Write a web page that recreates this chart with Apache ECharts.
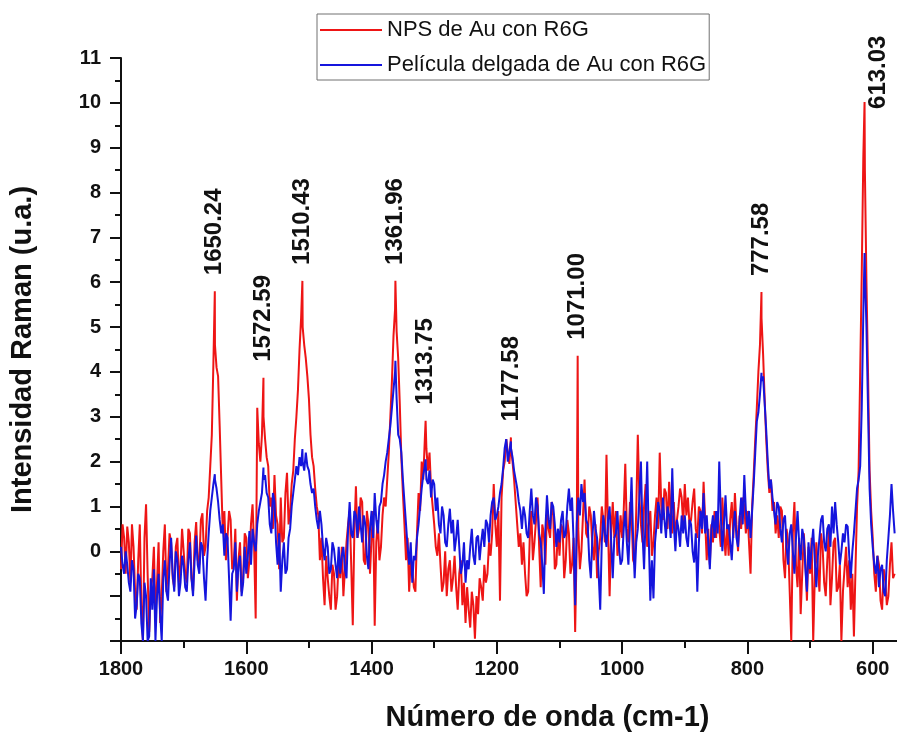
<!DOCTYPE html>
<html>
<head>
<meta charset="utf-8">
<script src="https://cdn.jsdelivr.net/npm/echarts@6/dist/echarts.min.js"></script>
<style>
  html, body { margin: 0; padding: 0; background: #fff; overflow: hidden; width: 897px; height: 737px; }
  /* the wavenumber axis continues past the right edge of the page */
  #chart { width: 1001px; height: 737px; }
</style>
</head>
<body>
<div id="chart"></div>
<script>
// Raman spectra of R6G: gold nanoparticles vs. thin gold film.
// Intensities sampled every 2.5 cm-1 from 1800 down to 565 cm-1.
const wavenumberStart = 1800;
const wavenumberStep = 2.5;

// NPS de Au con R6G (one row per 50 cm-1)
const npsIntensity = [
  -0.4, 0.6, 0.3, -0.5, 0.55, 0.2, -0.7, 0.6, 0.1, -0.9, -1.3, -0.2, 0.6, -1.2, -2.0, 0.3, 1.05, -0.5, -1.8, -0.9,   // 1800
  -0.6, 0.1, -1.5, -0.7, 0.2, -1.6, -1.0, 0.0, 0.6, -0.9, -0.4, 0.4, 0.2, -0.6, -0.8, 0.1, 0.3, -0.7, -0.3, 0.5,     // 1750
  0.0, -0.5, -0.7, 0.5, 0.4, -0.6, -0.9, 0.2, 0.65, -0.2, -0.3, 0.7, 0.85, -0.1, 0.1, 0.9, 1.2, 1.9, 2.6, 4.2,       // 1700
  4.6, 4.1, 3.9, 2.8, 1.6, 0.4, 0.9, -0.2, 0.3, 0.9, 0.7, -0.4, -0.3, 0.5, -1.1, -0.2, 0.2, -0.9, -0.6, 0.4,         // 1650
  0.3, -0.6, -0.2, 0.6, 1.05, 0.1, -1.5, 3.2, 2.4, 2.0, 2.6, 3.0, 2.5, 2.1, 1.9, 1.0, 1.2, 0.5, 1.7, 0.8,            // 1600
  0.6, -0.4, 1.2, 0.2, 0.3, 1.3, 1.75, 0.6, 0.9, 1.5, 1.8, 2.5, 3.0, 3.6, 4.5, 5.2, 5.0, 4.6, 4.3, 3.9,              // 1550
  3.4, 2.6, 2.1, 1.9, 1.4, 1.0, 0.8, -0.2, 0.3, -0.6, -1.2, -0.1, -0.6, -1.0, -1.3, -0.3, -0.5, -1.3, -1.0, -0.2,    // 1500
  -0.6, 0.1, -1.0, -0.4, 0.2, 0.6, 0.9, -0.3, -1.65, 0.4, 1.45, 0.3, 0.5, 1.2, 1.1, -0.2, -0.3, 0.9, 0.6, -0.5,      // 1450
  0.3, 0.9, -1.66, 0.2, 0.7, -0.2, 0.1, 0.8, 1.2, 1.0, 1.6, 2.2, 3.0, 3.8, 4.8, 5.4, 4.9, 4.3, 3.3, 2.1,             // 1400
  1.3, 0.6, -0.2, 0.3, -0.9, -0.2, -0.4, -0.8, -0.9, 0.4, 1.3, 0.9, 2.0, 1.6, 2.5, 2.3, 1.8, 2.2, 1.4, 1.0,          // 1350
  0.6, 0.1, -0.1, 0.4, -0.3, -0.9, -0.7, 0.0, -1.0, -0.4, -0.2, -0.9, -0.6, -0.1, -0.8, -1.3, -0.5, -0.2, -1.2, -0.7, // 1300
  -1.6, -0.8, -1.3, -1.7, -0.9, -1.2, -1.95, -1.0, -1.4, -0.6, -0.8, -1.1, -0.3, -0.7, -0.5, 0.2, -0.1, 0.4, 1.5, 0.6, // 1250
  0.1, 0.9, -1.1, 1.2, 1.8, 2.0, 2.5, 2.2, 1.95, 2.3, 2.0, 1.6, 1.1, 0.6, 0.1, 0.4, -0.3, 0.2, -0.5, -1.0,           // 1200
  -0.9, 0.3, 0.9, -0.2, 0.2, 0.7, 1.2, 0.1, -0.8, 0.6, 0.4, -0.3, 0.9, 0.5, 0.3, 1.1, 0.8, -0.4, -0.3, 0.5,          // 1150
  -0.1, 0.6, 0.5, -0.6, -0.2, 0.7, 0.4, -0.5, -0.3, 0.3, -1.8, 0.2, 0.5, -0.4, 0.0, 0.8, 1.6, 0.4, 0.3, 1.0,         // 1100
  0.8, 0.1, -0.2, 0.6, -0.6, 0.0, 0.3, 1.0, 0.7, 0.2, 2.15, 0.5, -1.0, 0.4, 1.1, 0.3, 0.9, -0.1, 0.2, 0.8,           // 1050
  0.3, 0.9, 1.95, 0.5, 0.2, 1.1, 0.8, -0.2, -0.3, 0.9, 2.6, 1.2, 0.6, 0.2, 1.0, 1.5, 0.1, 0.6, 0.9, -0.1,            // 1000
  0.2, 0.8, 1.2, 0.5, 2.2, 1.0, 0.7, 1.4, 1.3, 0.5, 1.55, 0.9, 0.4, 1.1, 0.3, 0.7, 1.0, 1.4, 1.2, 0.6,               // 950
  1.5, 0.8, 1.2, 0.6, 0.7, 1.1, 1.4, 0.5, 0.3, 1.0, 0.9, 0.4, 1.55, 0.7, -0.2, 0.5, -0.3, 0.6, 0.2, 0.9,             // 900
  0.3, 0.9, 0.5, 0.1, 1.2, 0.4, -0.1, 0.6, -0.1, 0.7, 1.1, 0.3, 1.3, 0.6, 0.0, 0.8, 0.5, 1.2, 1.0, 0.4,              // 850
  0.9, 0.2, -0.5, 1.0, 1.7, 2.5, 3.2, 4.0, 4.6, 5.2, 4.4, 3.4, 2.5, 1.8, 1.3, 1.6, 0.9, 1.1, 0.4, 0.8,               // 800
  0.3, 1.0, 0.9, -0.2, -0.6, 0.5, 0.2, -0.9, -2.0, 0.4, 1.1, -0.3, -0.8, 0.3, -1.4, -0.5, 0.4, -0.2, -1.1, 0.1,      // 750
  -0.5, 0.3, -2.0, -0.6, 0.2, -0.4, -0.9, 0.4, 0.1, -0.7, -1.0, -0.2, 0.5, -1.2, -0.6, 0.2, 0.3, -0.9, -0.8, -0.3,   // 700
  -2.0, -0.9, -0.4, 0.1, -0.8, -0.2, -1.3, -0.5, -1.9, -0.4, 1.0, 1.8, 4.0, 6.2, 8.8, 8.5, 6.0, 4.0, 1.8, 0.9,       // 650
  0.3, -0.5, -0.9, -0.1, -0.3, -1.1, -1.3, -0.4, -0.6, -1.2, -1.0, -0.3, 0.2, -0.6, -0.5                             // 600-565
];

// Película delgada de Au con R6G (one row per 50 cm-1)
const filmIntensity = [
  0.1, -0.3, -0.5, 0.0, -0.3, -0.7, -0.9, -0.2, -0.4, -1.5, -1.2, -0.5, -0.6, -1.6, -2.0, -0.7, -1.0, -2.0, -1.9, -0.6, // 1800
  -1.3, -0.4, -2.0, -1.0, -0.5, -1.4, -2.0, -0.6, -0.2, -0.9, -1.1, -0.3, 0.3, -0.5, -0.9, 0.0, -0.2, -1.0, -0.7, -0.1, // 1750
  -0.3, -0.8, -0.9, -0.2, 0.2, -0.6, -1.0, -0.2, 0.35, -0.3, -0.5, 0.2, 0.1, -0.6, -1.1, -0.2, 0.4, 0.9, 1.2, 1.5,    // 1700
  1.6, 1.4, 1.1, 0.7, 0.4, 0.6, -0.1, 0.4, 0.3, -0.6, -1.55, -0.5, -0.4, 0.2, -0.9, -0.3, -0.1, -1.0, -0.7, 0.1,     // 1650
  -0.5, -0.1, 0.45, -0.3, 0.5, 0.2, 0.0, 0.6, 0.9, 1.1, 1.3, 1.6, 1.7, 1.3, 1.2, 0.6, 0.4, 1.3, 1.1, 0.2,            // 1600
  -0.3, 0.4, -0.9, -0.2, 0.2, -0.5, -0.4, 0.3, 0.5, 1.0, 1.3, 1.6, 1.9, 1.7, 2.1, 1.9, 2.0, 1.8, 2.2, 1.9,           // 1550
  1.8, 1.5, 1.3, 1.4, 1.0, 0.7, 0.5, 0.9, 0.6, 0.1, -0.2, 0.3, 0.1, -0.5, -0.4, 0.2, 0.05, -0.3, -0.6, 0.1,          // 1500
  -0.5, -0.1, 0.1, -0.4, -0.6, 0.5, 1.1, 0.4, 0.3, 0.9, 0.8, 0.3, 1.0, 0.6, 0.2, 0.8, 0.6, -0.1, -0.4, 0.5,          // 1450
  0.9, 0.3, 1.3, 0.7, 0.4, 1.0, 1.1, 1.5, 1.7, 2.0, 2.2, 2.5, 2.8, 3.2, 3.6, 4.0, 3.4, 2.6, 2.5, 2.2,                // 1400
  1.6, 1.1, 0.6, 0.1, -0.3, 0.2, -0.7, -0.1, -0.2, 0.3, 0.6, 1.0, 1.4, 1.7, 1.9, 1.6, 1.5, 1.8, 1.2, 1.6,            // 1350
  1.5, 0.9, 1.2, 0.6, 0.4, 1.0, 0.8, 0.2, 0.1, 0.6, 0.95, 0.4, 0.7, 0.0, 0.3, 0.7, 0.1, -0.5, -0.3, 0.2,             // 1300
  -0.7, -0.2, -0.4, 0.1, 0.5, -0.1, -0.3, 0.3, 0.35, -0.2, 0.2, 0.5, 0.1, 0.7, 0.6, 0.2, 0.8, 1.1, 1.2, 0.7,         // 1250
  0.8, 1.0, 1.3, 1.5, 1.85, 2.3, 2.5, 2.0, 2.0, 2.3, 2.1, 1.8, 1.6, 1.4, 1.1, 0.9, 0.5, 1.0, 0.8, 0.4,               // 1200
  0.3, 0.9, 1.4, 0.8, 0.6, 1.2, 1.0, 0.4, 0.2, -0.3, -0.95, 0.5, 1.25, 0.7, 0.5, 1.1, 1.0, 0.6, 0.1, 0.5,            // 1150
  0.2, 0.7, 0.9, 0.3, 0.4, 1.0, 1.4, 0.9, 1.2, 0.2, -1.2, 0.6, 1.2, 0.8, 1.5, 1.1, 1.3, 0.7, 0.6, -0.2,              // 1100
  -0.6, 0.3, 0.9, 0.5, 0.3, -0.5, -1.3, 0.2, 0.8, 0.4, 0.1, 0.7, 1.0, 0.2, -0.6, 0.3, 0.4, 0.9, 0.1, -0.3,           // 1050
  -0.2, 0.5, 0.9, 0.2, -0.3, 0.6, 1.65, 0.3, -0.6, 0.2, 0.5, 1.2, 2.0, 0.4, -0.4, 0.8, 2.0, 0.3, -1.1, -0.2,         // 1000
  -1.05, 0.2, 0.6, 1.1, 0.9, 0.4, 1.2, 0.7, 0.3, 1.0, 0.8, 0.3, 1.85, 0.6, 0.0, 0.7, 0.5, 0.1, 0.8, 0.4,             // 950
  0.8, 0.3, 0.1, 0.7, 0.6, 0.0, -0.25, 0.4, -0.9, 0.2, 0.9, 0.5, 1.3, 0.4, 0.8, 0.2, -0.4, 0.5, 0.8, 0.3,            // 900
  0.9, 0.4, 2.0, 0.8, 0.0, 0.6, 1.25, 0.5, 0.6, 0.2, -0.2, 0.5, 0.9, 0.3, 0.1, 0.7, 1.2, 0.6, 1.7, 0.9,              // 850
  0.5, 0.9, 0.3, 0.9, 1.5, 2.2, 2.9, 3.1, 3.5, 3.8, 3.9, 3.3, 2.7, 2.0, 1.4, 1.6, 1.2, 0.9, 0.6, 1.1,                // 800
  1.0, 0.5, 0.2, 0.7, 0.8, 0.1, -0.3, 0.4, 0.6, 0.0, -0.5, 0.3, 0.9, 0.2, -0.2, 0.5, 0.3, -0.4, -0.9, 0.2,           // 750
  -0.4, 0.1, 0.5, -0.2, -0.8, -0.1, 0.3, 0.7, 0.8, 0.2, 0.0, 0.5, 0.6, 0.1, 1.0, 0.4, 1.1, 0.6, 0.2, -0.3,           // 700
  0.0, 0.4, 0.2, 0.6, 0.55, -0.1, -0.6, 0.0, 0.4, 0.9, 1.4, 1.6, 1.9, 3.2, 5.3, 6.3, 5.0, 3.2, 1.4, 0.6,             // 650
  0.1, -0.3, -0.5, -0.1, -0.8, -0.4, -0.3, -0.9, -1.0, -0.2, 0.3, 0.8, 1.5, 0.9, 0.4                                 // 600-565
];

// Band maxima (cm-1) and the intensity of each spectrum at those bands
const peakWavenumbers = [1650.24, 1572.59, 1510.43, 1361.96, 1313.75, 1177.58, 1071.00, 777.58, 613.03];
const peakNps  = [5.80, 3.87, 6.03, 6.03, 2.91, 2.54, 4.36, 5.78, 10.02];
const peakFilm = [1.72, 1.87, 2.28, 4.25, 2.05, 2.45, 1.00, 3.98, 6.65];

// Axis ticks
const yTickValues = [0, 1, 2, 3, 4, 5, 6, 7, 8, 9, 10, 11];
const xTickValues = [1800, 1600, 1400, 1200, 1000, 800, 600];

const seriesNames = ['NPS de Au con R6G', 'Película delgada de Au con R6G'];

const wavenumbers = npsIntensity.map((_, i) => wavenumberStart - i * wavenumberStep);

function buildSeries(values, peakValues) {
  const pts = wavenumbers.map((w, i) => [w, values[i]]);
  peakWavenumbers.forEach((w, i) => pts.push([w, peakValues[i]]));
  pts.sort((a, b) => b[0] - a[0]);
  return pts;
}

const FONT = '"Liberation Sans", Arial, Helvetica, sans-serif';
const INK = '#111111';
const RED = '#ee1515';
const BLUE = '#1515dd';

const chart = echarts.init(document.getElementById('chart'), null, { renderer: 'canvas' });

const yMax = Math.max(...yTickValues);

chart.setOption({
  animation: false,
  backgroundColor: '#ffffff',
  grid: { left: 121, top: 58, right: 0, bottom: 95 },
  legend: {
    data: seriesNames,
    orient: 'vertical',
    left: 317,
    top: 14,
    padding: [3, 3, 2, 3],
    itemGap: 9,
    icon: 'rect',
    itemWidth: 62,
    itemHeight: 2,
    borderColor: '#707070',
    borderWidth: 1,
    backgroundColor: '#ffffff',
    textStyle: { fontFamily: FONT, fontSize: 22, color: INK, lineHeight: 26 }
  },
  xAxis: {
    type: 'value',
    inverse: true,
    min: 400,
    max: 1800,
    interval: 200,
    name: 'Número de onda (cm-1)',
    nameLocation: 'middle',
    nameGap: 62,
    nameTextStyle: { fontFamily: FONT, fontWeight: 'bold', fontSize: 29, color: INK, padding: [0, 24, 0, 0] },
    axisLine: { show: true, onZero: false, lineStyle: { color: INK, width: 2 } },
    axisTick: { show: true, inside: false, length: 13, lineStyle: { color: INK, width: 2 } },
    minorTick: { show: true, splitNumber: 2, length: 7, lineStyle: { color: INK, width: 2 } },
    axisLabel: {
      margin: 18, fontFamily: FONT, fontWeight: 'bold', fontSize: 20, color: INK,
      formatter: v => (xTickValues.includes(v) ? String(v) : '')
    },
    splitLine: { show: false }
  },
  yAxis: {
    type: 'value',
    min: -2,
    max: yMax,
    interval: 1,
    name: 'Intensidad Raman (u.a.)',
    nameLocation: 'middle',
    nameGap: 84,
    nameTextStyle: { fontFamily: FONT, fontWeight: 'bold', fontSize: 29, color: INK },
    axisLine: { show: true, onZero: false, lineStyle: { color: INK, width: 2 } },
    axisTick: { show: true, inside: false, length: 11, lineStyle: { color: INK, width: 2 } },
    minorTick: { show: true, splitNumber: 2, length: 6, lineStyle: { color: INK, width: 2 } },
    axisLabel: {
      margin: 20, fontFamily: FONT, fontWeight: 'bold', fontSize: 20, color: INK,
      formatter: v => (yTickValues.includes(v) ? String(v) : '')
    },
    splitLine: { show: false }
  },
  series: [
    {
      name: seriesNames[0],
      type: 'line',
      data: buildSeries(npsIntensity, peakNps),
      symbol: 'none',
      color: RED,
      lineStyle: { color: RED, width: 2 },
      z: 2
    },
    {
      name: seriesNames[1],
      type: 'line',
      data: buildSeries(filmIntensity, peakFilm),
      symbol: 'none',
      color: BLUE,
      lineStyle: { color: BLUE, width: 2 },
      z: 3
    },
    {
      // band position labels above the NPS maxima
      name: 'bandas',
      type: 'scatter',
      symbolSize: 0,
      silent: true,
      clip: false,
      z: 10,
      itemStyle: { opacity: 1 },
      data: peakWavenumbers.map((w, i) => {
        const item = { value: [w, peakNps[i]] };
        // a label that would run past the top of the axis sits beside its band
        // (offset is in the rotated text frame: [along text, across text])
        if (peakNps[i] > yMax - 2) item.label = { offset: [-23, 14] };
        return item;
      }),
      label: {
        show: true,
        position: 'top',
        distance: 16,
        rotate: 90,
        align: 'left',
        verticalAlign: 'middle',
        fontFamily: FONT,
        fontWeight: 'bold',
        fontSize: 24,
        color: INK,
        opacity: 1,
        formatter: p => p.value[0].toFixed(2)
      }
    }
  ]
});
</script>
</body>
</html>
